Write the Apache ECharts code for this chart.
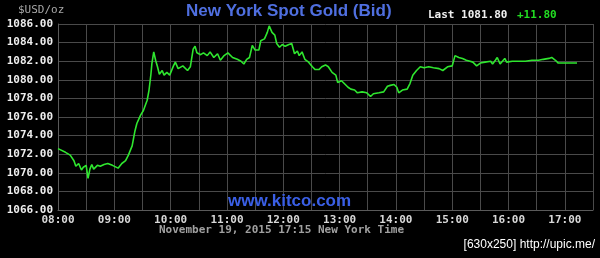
<!DOCTYPE html>
<html>
<head>
<meta charset="utf-8">
<script src="https://cdn.jsdelivr.net/npm/echarts@6/dist/echarts.min.js"></script>
<style>
  html, body { margin: 0; padding: 0; background: #000; }
  #chart { width: 600px; height: 258px; }
</style>
</head>
<body>
<div id="chart"></div>
<script>
// Times (New York) and bid prices
const times = [
  "08:00","08:08","08:13","08:17","08:19","08:22","08:25","08:27","08:30","08:32",
  "08:34","08:36","08:38","08:42","08:45","08:49","08:53","08:58","09:04","09:08",
  "09:12","09:15","09:19","09:22","09:24","09:28","09:31","09:35","09:37","09:39",
  "09:40","09:42","09:44","09:46","09:48","09:51","09:53","09:56","09:59","10:03",
  "10:05","10:08","10:10","10:13","10:18","10:21","10:24","10:26","10:28","10:32",
  "10:35","10:39","10:42","10:46","10:50","10:53","10:57","11:01","11:06","11:11",
  "11:15","11:18","11:21","11:24","11:27","11:30","11:34","11:36","11:40","11:43",
  "11:45","11:48","11:51","11:53","11:56","11:59","12:02","12:06","12:09","12:12",
  "12:15","12:17","12:20","12:23","12:27","12:31","12:34","12:38","12:41","12:45",
  "12:48","12:52","12:56","12:58","13:02","13:05","13:09","13:12","13:16","13:19",
  "13:24","13:29","13:33","13:36","13:42","13:47","13:51","13:54","13:58","14:01",
  "14:03","14:07","14:12","14:15","14:18","14:22","14:26","14:30","14:35","14:40",
  "14:46","14:50","14:55","15:00","15:03","15:07","15:11","15:15","15:19","15:22",
  "15:26","15:30","15:35","15:41","15:43","15:46","15:48","15:51","15:53","15:56",
  "15:58","16:04","16:11","16:18","16:25","16:32","16:37","16:43","16:46","16:50",
  "16:53","16:57","17:04","17:13"
];
const prices = [
  1072.6,1072.2,1071.9,1071.3,1070.7,1071.0,1070.3,1070.6,1070.8,1069.4,
  1070.4,1070.9,1070.4,1070.8,1070.7,1070.9,1071.0,1070.8,1070.5,1071.0,
  1071.3,1071.9,1072.9,1074.5,1075.3,1076.2,1076.7,1077.8,1078.9,1080.6,
  1081.7,1083.0,1082.1,1081.4,1080.6,1081.0,1080.5,1080.8,1080.5,1081.5,
  1081.9,1081.2,1081.0,1081.5,1081.0,1081.4,1083.3,1083.6,1082.9,1082.7,
  1082.9,1082.6,1083.0,1082.4,1082.8,1082.1,1082.6,1082.9,1082.4,1082.2,
  1082.0,1081.7,1082.2,1082.4,1083.7,1083.2,1083.2,1084.2,1084.4,1085.1,
  1085.8,1085.1,1084.8,1083.9,1083.5,1083.8,1083.6,1083.8,1083.9,1082.8,
  1083.1,1082.6,1083.0,1082.2,1081.9,1081.4,1081.1,1081.1,1081.4,1081.6,
  1081.4,1080.8,1080.5,1079.7,1079.9,1079.6,1079.2,1079.0,1078.9,1078.6,
  1078.7,1078.6,1078.2,1078.5,1078.6,1078.7,1079.3,1079.4,1079.5,1079.2,
  1078.6,1078.9,1079.0,1079.6,1080.5,1081.0,1081.4,1081.3,1081.4,1081.3,
  1081.2,1081.0,1081.4,1081.5,1082.6,1082.4,1082.3,1082.1,1082.0,1081.9,
  1081.5,1081.8,1081.9,1082.0,1081.7,1082.1,1082.4,1081.7,1081.9,1082.3,
  1081.9,1082.0,1082.0,1082.0,1082.1,1082.1,1082.2,1082.3,1082.4,1082.1,
  1081.8,1081.8,1081.8,1081.8
];
const yMin = 1066, yMax = 1086, yStep = 2;
const xStartLabel = "08:00", xEndLabel = "17:30";
const titleText = "New York Spot Gold (Bid)";
const unitText = "$USD/oz";
const lastText = "Last 1081.80";
const changeText = "+11.80";
const dateText = "November 19, 2015 17:15 New York Time";
const siteText = "www.kitco.com";
const footerText = "[630x250] http://upic.me/";

function toMin(s) { const p = s.split(":"); return (+p[0]) * 60 + (+p[1]); }
function fmtHM(m) {
  const h = Math.floor(m / 60), mm = m % 60;
  return String(h).padStart(2, "0") + ":" + String(mm).padStart(2, "0");
}
const seriesData = times.map((t, i) => [toMin(t), prices[i]]);

const mono = "'DejaVu Sans Mono', monospace";
const sans = "'Liberation Sans', Arial, sans-serif";

const chart = echarts.init(document.getElementById("chart"), null, { renderer: "canvas" });
chart.setOption({
  backgroundColor: "#000000",
  animation: false,
  grid: { left: 58, right: 7, top: 24, bottom: 48, containLabel: false },
  xAxis: {
    type: "value",
    min: toMin(xStartLabel), max: toMin(xEndLabel), interval: 30,
    axisLine: { show: true, lineStyle: { color: "#5a5a5a", width: 1 } },
    axisTick: { show: false },
    splitLine: { show: true, lineStyle: { color: "#4a4a4a", width: 1 } },
    axisLabel: {
      margin: 5, color: "#d8d8d8", fontFamily: mono, fontWeight: "bold", fontSize: 11,
      showMinLabel: true, showMaxLabel: false,
      formatter: v => (v % 60 === 0 ? fmtHM(v) : "")
    }
  },
  yAxis: {
    type: "value", min: yMin, max: yMax, interval: yStep,
    axisLine: { show: true, lineStyle: { color: "#5a5a5a", width: 1 } },
    axisTick: { show: false },
    splitLine: { show: true, lineStyle: { color: "#4a4a4a", width: 1 } },
    axisLabel: {
      margin: 5, color: "#eeeeee", fontFamily: mono, fontWeight: "bold", fontSize: 11,
      formatter: v => v.toFixed(2)
    }
  },
  series: [{
    type: "line", data: seriesData, showSymbol: false, smooth: false,
    lineStyle: { color: "#2fe62f", width: 1.6 }
  }],
  graphic: [
    { type: "text", left: 186, top: 3, z: 10,
      style: { text: titleText, fill: "#4f6fe0", font: "bold 17px " + sans } },
    { type: "text", left: 18, top: 5, z: 10,
      style: { text: unitText, fill: "#a8a8a8", font: "11px " + mono } },
    { type: "text", left: 428, top: 10, z: 10,
      style: { text: lastText, fill: "#f0f0f0", font: "bold 11px " + mono } },
    { type: "text", left: 517, top: 10, z: 10,
      style: { text: changeText, fill: "#22dd22", font: "bold 11px " + mono } },
    { type: "text", left: 159, top: 225, z: 10,
      style: { text: dateText, fill: "#a0a0a0", font: "bold 11px " + mono } },
    { type: "text", left: 228, top: 193, z: 10,
      style: { text: siteText, fill: "#3a5fe6", font: "bold 17px " + sans } },
    { type: "text", right: 5, top: 239, z: 10,
      style: { text: footerText, fill: "#ffffff", font: "12px 'Liberation Sans', sans-serif" } }
  ]
});
</script>
</body>
</html>
